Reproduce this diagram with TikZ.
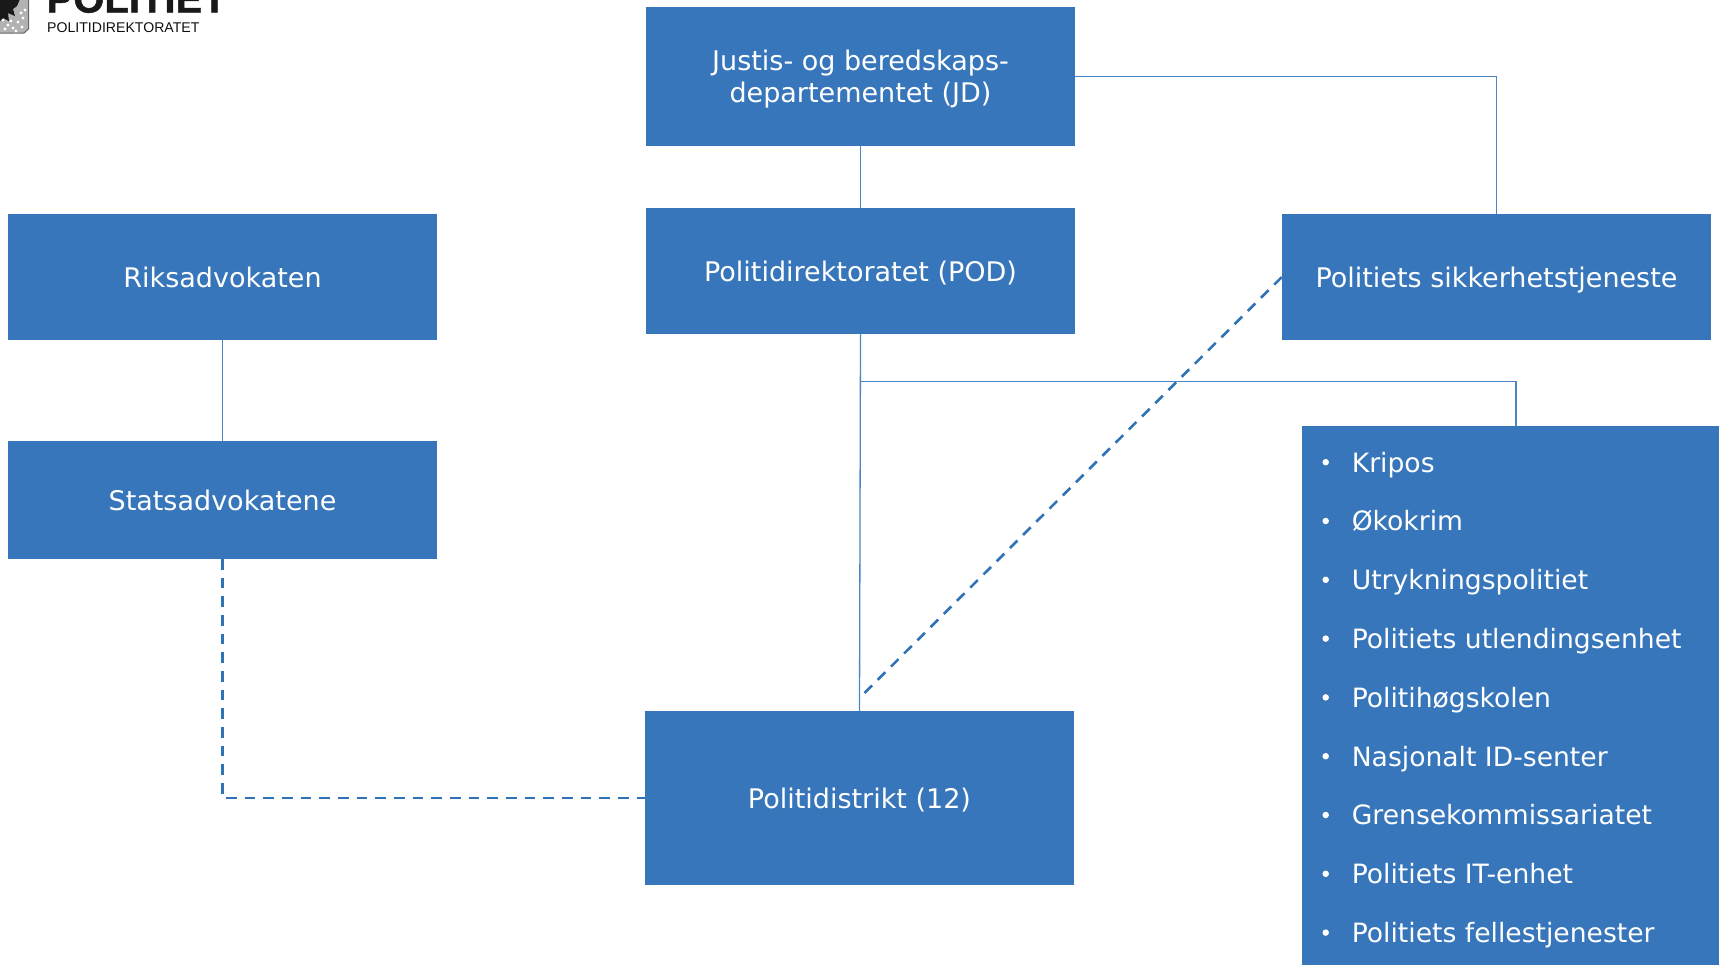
\documentclass[tikz,border=0pt]{standalone}
\usepackage{fontspec}
\setmainfont{DejaVu Sans}
\newfontfamily\logofont{Liberation Sans}
\newfontfamily\logoheavy[FakeBold=1.2]{Liberation Sans Bold}
\definecolor{boxblue}{HTML}{3776BA}
\definecolor{linkblue}{HTML}{4A86C4}
\definecolor{dashblue}{HTML}{2F72B6}
\tikzset{
  orgbox/.style={draw=none,fill=boxblue,text=white,align=center,font=\fontsize{27}{32}\selectfont,minimum width=428.5pt,inner sep=0pt,text depth=0pt},
  thinlink/.style={draw=linkblue,line width=1.3pt},
  dashlink/.style={draw=dashblue,line width=2.6pt,dash pattern=on 10.7pt off 7.96pt},
  listitem/.style={anchor=base west,text=white,font=\fontsize{26.6}{30}\selectfont,inner sep=0pt},
  listbullet/.style={circle,fill=white,minimum size=6.5pt,inner sep=0pt,draw=none},
}
\begin{document}
\begin{tikzpicture}[x=1pt,y=-1pt]
\useasboundingbox (0,0) rectangle (1719,964);
\clip (0,0) rectangle (1719,964);
% logo
\fill[black!30,draw=black!60,line width=1pt] (-1,-1) -- (28.5,-1) -- (28.5,29) -- (24,33) -- (-1,33) -- cycle;
\foreach \x/\y in {3/20,8/25,13/28,18/22,23/18,5/29,16/31,22/27,25/10,21/13,11/21}{
  \fill[white] (\x,\y) circle (1.6pt);
}
\fill[black!90] (-1,-1) -- (20,-1) -- (17,6) -- (13,9) -- (15,16) -- (8,13) -- (9,21) -- (3,18) -- (-1,22) -- cycle;
\node[anchor=base west,inner sep=0pt,font=\logoheavy\fontsize{40}{40}\selectfont,text=black!90] (logoa) at (46.5,12.5) {POLITIET};
\node[anchor=base west,inner sep=0pt,font=\logofont\fontsize{14.1}{15}\selectfont,text=black!95] (logob) at (47,32.5) {POLITIDIREKTORATET};
% boxes
\node[orgbox,minimum height=138.5pt] (jd) at (860.5,76.7) {Justis- og beredskaps-\\departementet (JD)};
\node[orgbox,minimum height=125.5pt] (pod) at (860.5,271) {Politidirektoratet (POD)};
\node[orgbox,minimum height=125.5pt] (riks) at (222.5,276.8) {Riksadvokaten};
\node[orgbox,minimum height=117.5pt] (stats) at (222.5,500) {Statsadvokatene};
\node[orgbox,minimum height=125.5pt] (pst) at (1496.5,276.8) {Politiets sikkerhetstjeneste};
\node[orgbox,minimum height=174pt] (dist) at (859.5,798) {Politidistrikt (12)};
\node[orgbox,minimum height=560pt,anchor=north] (list) at (1516,425.5) {};
% list
\foreach \i/\t in {0/Kripos,1/Økokrim,2/Utrykningspolitiet,3/Politiets utlendingsenhet,4/Politihøgskolen,5/Nasjonalt ID-senter,6/Grensekommissariatet,7/Politiets IT-enhet,8/Politiets fellestjenester}{
  \node[listbullet] (b\i) at (1325.7,{462.2+\i*58.8}) {};
  \node[listitem] (t\i) at (1351.6,{472+\i*58.8}) {\t};
}
% connectors
\coordinate (junction) at (860.5,381.5);
\coordinate (dashend) at (864.5,693);
\draw[thinlink] (jd.south) -- (pod.north);
\draw[thinlink] (jd.east) -| (pst.north);
\draw[thinlink] (riks.south) -- (stats.north);
\draw[thinlink] (pod.south) -- (dist.north);
\draw[thinlink] (junction) -| (list.north);
\draw[dashlink] (stats.south) |- (dist.west);
\draw[dashlink] (dashend) -- (pst.west);
\end{tikzpicture}
\end{document}
